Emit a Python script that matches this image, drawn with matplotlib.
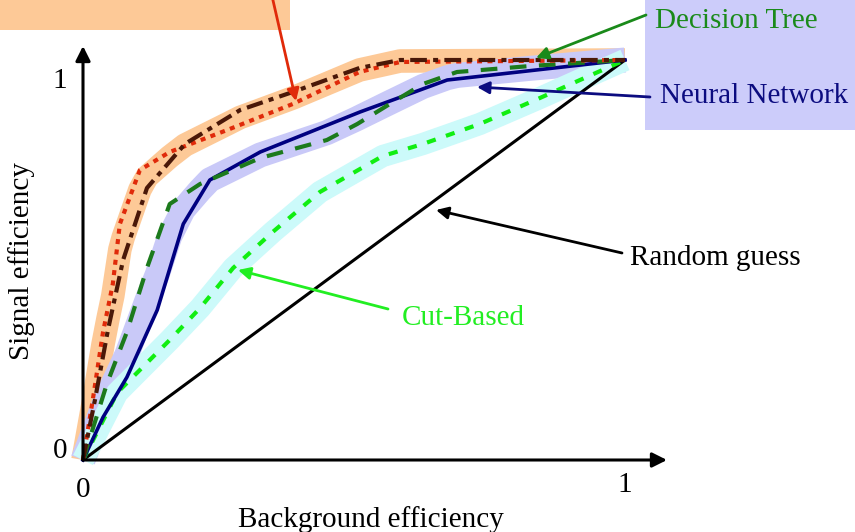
import numpy as np
import matplotlib
matplotlib.use("Agg")
from matplotlib import pyplot as plt
from matplotlib.patches import Rectangle

plt.rcParams['font.family'] = ['Liberation Serif', 'DejaVu Serif']

# ROC-style curves (background eff, signal eff)
lik_dot_x = [0.0, 0.018, 0.037, 0.055, 0.068, 0.105, 0.16, 0.266, 0.387, 0.51, 0.585, 1.0]
lik_dot_y = [0.0, 0.15, 0.32, 0.44, 0.59, 0.725, 0.77, 0.825, 0.89, 0.97, 0.995, 1.0]

lik_dd_x = [0.0, 0.022, 0.046, 0.074, 0.118, 0.188, 0.29, 0.387, 0.51, 0.585, 1.0]
lik_dd_y = [0.0, 0.15, 0.325, 0.5, 0.68, 0.79, 0.875, 0.92, 0.98, 1.0, 1.0]

nn_x = [0.0, 0.037, 0.081, 0.137, 0.185, 0.234, 0.327, 0.419, 0.511, 0.672, 1.0]
nn_y = [0.0, 0.107, 0.207, 0.375, 0.59, 0.70, 0.77, 0.82, 0.87, 0.95, 1.0]

dt_x = [0.0, 0.044, 0.081, 0.118, 0.16, 0.216, 0.327, 0.45, 0.506, 0.566, 0.627, 0.69, 0.825, 1.0]
dt_y = [0.0, 0.19, 0.32, 0.48, 0.64, 0.69, 0.755, 0.80, 0.84, 0.89, 0.94, 0.97, 0.985, 1.0]

cut_x = [0.0, 0.063, 0.16, 0.216, 0.277, 0.35, 0.437, 0.553, 0.627, 0.732, 0.843, 0.917, 1.0]
cut_y = [0.0, 0.168, 0.30, 0.38, 0.48, 0.57, 0.67, 0.76, 0.79, 0.84, 0.905, 0.95, 1.0]

rand_x = [0.0, 1.0]
rand_y = [0.0, 1.0]

W, H = 855, 532
X0, Y0, X1, Y1 = 83, 460, 625, 60   # pixel position of data (0,0) and (1,1)


def pix(px, py):
        # pixel (from top-left) -> data coords
        return ((px - X0) / (X1 - X0), (Y0 - py) / (Y0 - Y1))


def band(xa, ya, xb, yb):
        # centre line between two curves
        xs = np.union1d(xa, xb)
        return xs, (np.interp(xs, xa, ya) + np.interp(xs, xb, yb)) / 2


fig = plt.figure(figsize=(W / 100, H / 100), dpi=100)
ax = fig.add_axes([X0 / W, (H - Y0) / H, (X1 - X0) / W, (Y0 - Y1) / H])
ax.set_xlim(0, 1)
ax.set_ylim(0, 1)
ax.axis("off")

# label boxes
ax.add_patch(Rectangle((0, 1 - 30 / H), 290 / W, 40 / H, transform=fig.transFigure,
                       facecolor="#fdc997", edgecolor="none", zorder=0, clip_on=False))
ax.add_patch(Rectangle((645 / W, 1 - 130 / H), 220 / W, 140 / H, transform=fig.transFigure,
                       facecolor="#ccccfa", edgecolor="none", zorder=0, clip_on=False))

# shaded bands
bx, by = band(lik_dot_x, lik_dot_y, lik_dd_x, lik_dd_y)
ax.plot(bx, by, color="#fdc997", lw=17, solid_capstyle="butt", clip_on=False, zorder=1)
bx, by = band(nn_x, nn_y, dt_x, dt_y)
ax.plot(bx, by, color="#c9c9f8", lw=18, solid_capstyle="butt", clip_on=False, zorder=1)
ax.plot(cut_x, cut_y, color="#ccfafa", lw=16, solid_capstyle="butt", clip_on=False, zorder=1)

# curves
ax.plot(rand_x, rand_y, color="black", lw=2.2, clip_on=False, zorder=3)
ax.plot(cut_x, cut_y, color="#11ee11", lw=3, ls=(0, (2.2, 2.6)), clip_on=False, zorder=4)
ax.plot(nn_x, nn_y, color="#000080", lw=2.6, clip_on=False, zorder=4)
ax.plot(dt_x, dt_y, color="#1c7a1c", lw=3, ls=(0, (4, 3)), clip_on=False, zorder=5)
ax.plot(lik_dot_x, lik_dot_y, color="#e02a0a", lw=3, ls=(0, (1.2, 1.3)), clip_on=False, zorder=5)
ax.plot(lik_dd_x, lik_dd_y, color="#4a1808", lw=3, ls=(0, (4, 1.5, 1.2, 1.5)), clip_on=False, zorder=6)

# axes with arrows
arr = dict(arrowstyle="-|>", color="black", lw=2.2, mutation_scale=22, shrinkA=0, shrinkB=0)
ax.annotate("", xy=pix(667, 460), xytext=(0, 0), arrowprops=arr, annotation_clip=False, zorder=7)
ax.annotate("", xy=pix(83, 46), xytext=(0, 0), arrowprops=arr, annotation_clip=False, zorder=7)

fs = 21
ax.text(*pix(67, 88), "1", fontsize=fs, ha="right", va="baseline")
ax.text(*pix(67, 458), "0", fontsize=fs, ha="right", va="baseline")
ax.text(*pix(83, 497), "0", fontsize=fs, ha="center", va="baseline")
ax.text(*pix(625, 492), "1", fontsize=fs, ha="center", va="baseline")
ax.text(*pix(371, 527), "Background efficiency", fontsize=fs, ha="center", va="baseline")
ax.text(*pix(22, 261), "Signal efficiency", fontsize=fs, ha="center", va="center", rotation=90)

# annotations
def note(text, tail, tip, color, textpos):
        ap = dict(arrowstyle="-|>", color=color, lw=2, mutation_scale=18, shrinkA=0, shrinkB=0)
        ax.annotate("", xy=pix(*tip), xytext=pix(*tail), arrowprops=ap,
                    annotation_clip=False, zorder=8)
        if text:
                ax.text(*pix(*textpos), text, color=color, fontsize=fs,
                        ha="left", va="baseline", zorder=9)

note("", (272, -4), (296, 101), "#e02a0a", None)
note("Decision Tree", (646, 15), (536, 58), "#1a8a1a", (655, 28))
note("Neural Network", (650, 97), (477, 87), "#0c0c80", (660, 103))
note("Random guess", (622, 253), (436, 210), "black", (630, 265))
note("Cut-Based", (388, 309), (238, 270), "#22ee22", (402, 325))

fig.savefig("out.png", dpi=100)
